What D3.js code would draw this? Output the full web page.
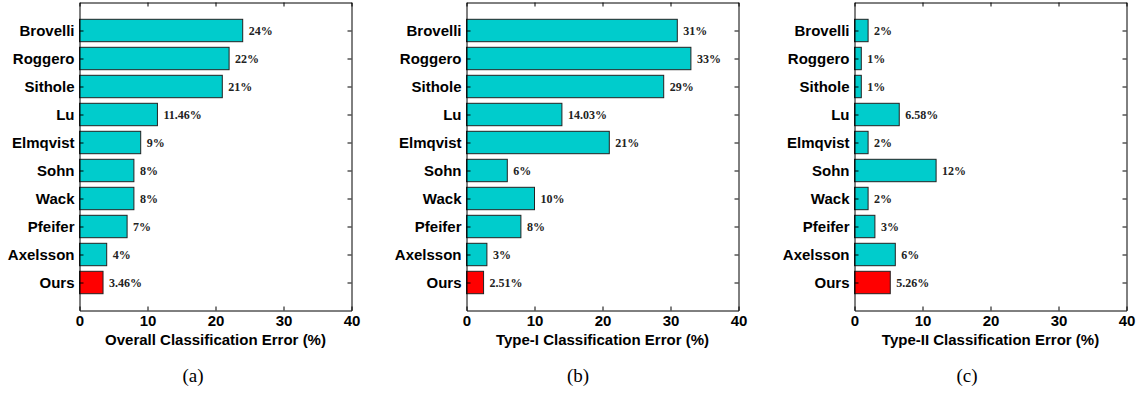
<!DOCTYPE html>
<html>
<head>
<meta charset="utf-8">
<script src="https://cdn.jsdelivr.net/npm/d3@7"></script>
<style>
  html, body { margin: 0; padding: 0; background: #fff; }
  svg { display: block; }
</style>
</head>
<body>
<svg id="fig" width="1136" height="394"></svg>
<script>
// Methods, listed top to bottom
const methods = ["Brovelli", "Roggero", "Sithole", "Lu", "Elmqvist", "Sohn", "Wack", "Pfeifer", "Axelsson", "Ours"];

// Error rates (%) for each method
const overallError = [24, 22, 21, 11.46, 9, 8, 8, 7, 4, 3.46];
const typeIError   = [31, 33, 29, 14.03, 21, 6, 10, 8, 3, 2.51];
const typeIIError  = [2, 1, 1, 6.58, 2, 12, 2, 3, 6, 5.26];

// Value labels printed beside the bars
const overallLabels = ["24%", "22%", "21%", "11.46%", "9%", "8%", "8%", "7%", "4%", "3.46%"];
const typeILabels   = ["31%", "33%", "29%", "14.03%", "21%", "6%", "10%", "8%", "3%", "2.51%"];
const typeIILabels  = ["2%", "1%", "1%", "6.58%", "2%", "12%", "2%", "3%", "6%", "5.26%"];

const xTicks = [0, 10, 20, 30, 40];
const axisTitles = ["Overall Classification Error (%)", "Type-I Classification Error (%)", "Type-II Classification Error (%)"];
const captions = ["(a)", "(b)", "(c)"];

const panels = [
  { values: overallError, labels: overallLabels, left: 79,  caption: 193 },
  { values: typeIError,   labels: typeILabels,   left: 466, caption: 578 },
  { values: typeIIError,  labels: typeIILabels,  left: 854, caption: 967 }
];

const svg = d3.select("#fig");
const plotTop = 2.5, plotBottom = 310.5, plotW = 272;
const sans = "'Liberation Sans', Arial, sans-serif";
const serif = "'Liberation Serif', 'Times New Roman', serif";

panels.forEach((p, i) => {
  const x = d3.scaleLinear().domain([0, 40]).range([p.left + 0.5, p.left + 0.5 + plotW]);
  // Bar slots 1..10 on an 11-unit axis; first method sits at the top
  const y = d3.scaleLinear().domain([0, 11]).range([plotBottom, plotTop]);
  const slot = idx => methods.length - idx;
  const barH = y(0) - y(0.8);

  const g = svg.append("g");

  // Bars
  g.selectAll("rect.bar")
    .data(p.values)
    .join("rect")
    .attr("class", "bar")
    .attr("x", x(0))
    .attr("y", (d, k) => y(slot(k)) - barH / 2)
    .attr("width", d => x(d) - x(0))
    .attr("height", barH)
    .attr("fill", (d, k) => methods[k] === "Ours" ? "#ff0000" : "#00cccc")
    .attr("stroke", "#222")
    .attr("stroke-width", 1);

  // Value labels
  g.selectAll("text.val")
    .data(p.labels)
    .join("text")
    .attr("class", "val")
    .attr("x", (d, k) => x(p.values[k]) + 6)
    .attr("y", (d, k) => y(slot(k)))
    .attr("dy", "0.35em")
    .attr("font-family", serif)
    .attr("font-weight", "bold")
    .attr("font-size", "12px")
    .attr("fill", "#222")
    .text(d => d);

  // Bottom axis with inward ticks
  const xAxis = d3.axisBottom(x).tickValues(xTicks).tickSizeInner(-4).tickSizeOuter(0).tickPadding(5);
  const gx = g.append("g").attr("transform", `translate(0,${plotBottom})`).call(xAxis);
  gx.select(".domain").attr("stroke", "#000");
  gx.selectAll(".tick line").attr("stroke", "#000");
  gx.selectAll(".tick text")
    .attr("font-family", sans).attr("font-weight", "bold").attr("font-size", "15px")
    .attr("fill", "#000").attr("dy", "0.71em");

  // Top axis mirror ticks
  const xTop = d3.axisTop(x).tickValues(xTicks).tickSizeInner(-4).tickSizeOuter(0).tickFormat("");
  const gt = g.append("g").attr("transform", `translate(0,${plotTop})`).call(xTop);
  gt.selectAll("path, line").attr("stroke", "#000");

  // Left axis with method names
  const yAxis = d3.axisLeft(y).tickValues(d3.range(1, 11))
    .tickFormat(v => methods[methods.length - v]).tickSizeInner(-4).tickSizeOuter(0).tickPadding(5);
  const gy = g.append("g").attr("transform", `translate(${x(0)},0)`).call(yAxis);
  gy.selectAll("path, line").attr("stroke", "#000");
  gy.selectAll(".tick text")
    .attr("font-family", sans).attr("font-weight", "bold").attr("font-size", "15px").attr("fill", "#000");

  // Right axis mirror ticks
  const yRight = d3.axisRight(y).tickValues(d3.range(1, 11)).tickSizeInner(-4).tickSizeOuter(0).tickFormat("");
  const gr = g.append("g").attr("transform", `translate(${x(40)},0)`).call(yRight);
  gr.selectAll("path, line").attr("stroke", "#000");

  // Axis title
  g.append("text")
    .attr("x", (x(0) + x(40)) / 2)
    .attr("y", 345)
    .attr("text-anchor", "middle")
    .attr("font-family", sans).attr("font-weight", "bold").attr("font-size", "15px")
    .attr("fill", "#000")
    .text(axisTitles[i]);

  // Sub-figure caption
  g.append("text")
    .attr("x", p.caption)
    .attr("y", 382)
    .attr("text-anchor", "middle")
    .attr("font-family", serif).attr("font-size", "19px")
    .attr("fill", "#000")
    .text(captions[i]);
});
</script>
</body>
</html>
